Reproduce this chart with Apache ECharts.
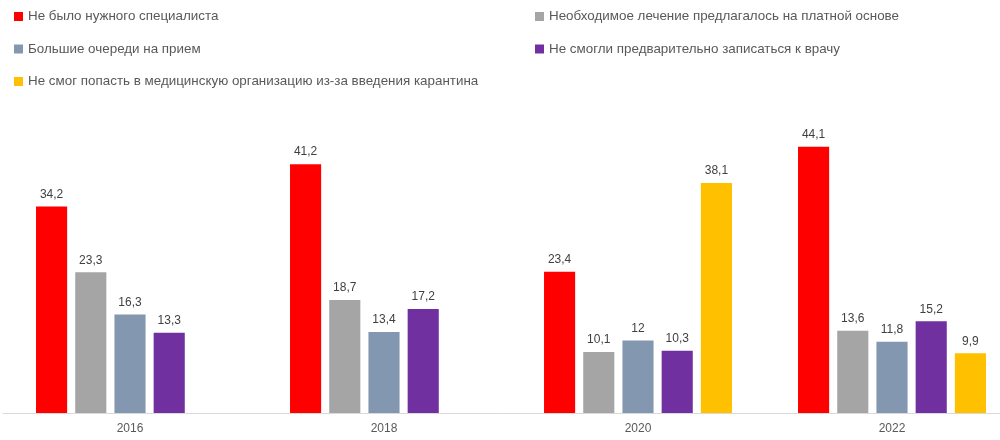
<!DOCTYPE html>
<html><head><meta charset="utf-8">
<script src="https://cdn.jsdelivr.net/npm/echarts@6/dist/echarts.min.js"></script>
<style>html,body{margin:0;padding:0;background:#fff}#c{width:1000px;height:440px}</style>
</head><body><div id="c"></div>
<script>
const categories = ['2016', '2018', '2020', '2022'];
const seriesNames = [
  'Не было нужного специалиста',
  'Необходимое лечение предлагалось на платной основе',
  'Большие очереди на прием',
  'Не смогли предварительно записаться к врачу',
  'Не смог попасть в медицинскую организацию из-за введения карантина'
];
const noSpecialist = [34.2, 41.2, 23.4, 44.1];
const paidTreatment = [23.3, 18.7, 10.1, 13.6];
const queues = [16.3, 13.4, 12, 11.8];
const noAppointment = [13.3, 17.2, 10.3, 15.2];
const quarantine = [null, null, 38.1, 9.9];
const colors = ['#FF0000', '#A5A5A5', '#8497B0', '#7030A0', '#FFC000'];
const values = [noSpecialist, paidTreatment, queues, noAppointment, quarantine];

const font = 'Liberation Sans, Arial, sans-serif';
const chart = echarts.init(document.getElementById('c'));
const legendText = { fontFamily: font, fontSize: 13.4, color: '#595959' };
chart.setOption({
  animation: false,
  color: colors,
  legend: [
    { data: [seriesNames[0], seriesNames[2], seriesNames[4]], orient: 'vertical', left: 9, top: 5,
      itemWidth: 9, itemHeight: 9, itemGap: 19.5, icon: 'rect', textStyle: legendText },
    { data: [seriesNames[1], seriesNames[3]], orient: 'vertical', left: 530, top: 5,
      itemWidth: 9, itemHeight: 9, itemGap: 19.5, icon: 'rect', textStyle: legendText }
  ],
  grid: { left: 3, width: 1016, top: 111, bottom: 27, outerBoundsMode: 'none', containLabel: false },
  xAxis: {
    type: 'category', data: categories,
    axisLine: { lineStyle: { color: '#D9D9D9' } },
    axisTick: { show: false },
    axisLabel: { fontFamily: font, fontSize: 12, color: '#595959', margin: 10 }
  },
  yAxis: { type: 'value', min: 0, max: 50, show: false, splitLine: { show: false } },
  series: values.map((v, i) => ({
    name: seriesNames[i], type: 'bar', data: v,
    barGap: '26%', barCategoryGap: '26%',
    label: { show: true, position: 'top', distance: 6, fontFamily: font, fontSize: 12, color: '#404040',
      formatter: p => String(p.value).replace('.', ',') }
  }))
});
</script></body></html>
